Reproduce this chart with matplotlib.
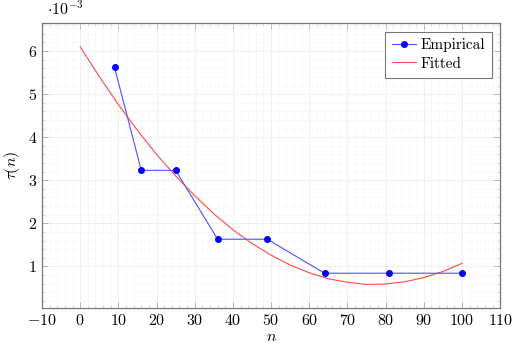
import matplotlib
matplotlib.use("Agg")
import matplotlib.pyplot as plt
from matplotlib.ticker import MultipleLocator, FuncFormatter

plt.rcParams['font.family'] = 'serif'
plt.rcParams['font.serif'] = ['cmr10']
plt.rcParams['mathtext.fontset'] = 'cm'
plt.rcParams['axes.formatter.use_mathtext'] = True

# Data (tau values in units of 1e-3)
emp_n = [9, 16, 25, 36, 49, 64, 81, 100]
emp_tau = [5.62, 3.23, 3.23, 1.63, 1.63, 0.84, 0.84, 0.84]

fit_n = [0, 5, 10, 15, 20, 25, 30, 35, 40, 45, 50, 55, 60, 65, 70, 75, 80, 85, 90, 95, 100]
fit_tau = [6.10, 5.41, 4.76, 4.16, 3.60, 3.10, 2.64, 2.22, 1.85, 1.53, 1.26, 1.03,
           0.85, 0.71, 0.63, 0.58, 0.59, 0.64, 0.74, 0.88, 1.07]

fig = plt.figure(figsize=(5.12, 3.45), dpi=100)
ax = fig.add_axes([0.082, 0.107, 0.895, 0.826])

ax.plot(emp_n, emp_tau, color='#5050ff', lw=0.8, marker='o', ms=4.0,
        markerfacecolor='blue', markeredgecolor='blue', label='Empirical', zorder=3)
ax.plot(fit_n, fit_tau, color='#ff4a4a', lw=0.8, label='Fitted', zorder=2)

ax.set_xlim(-10, 110)
ax.set_ylim(0.03, 6.65)
ax.xaxis.set_major_locator(MultipleLocator(10))
ax.xaxis.set_minor_locator(MultipleLocator(2))
ax.yaxis.set_major_locator(MultipleLocator(1))
ax.yaxis.set_minor_locator(MultipleLocator(0.2))
fmt = FuncFormatter(lambda v, p: r'$%d$' % round(v) if round(v) >= 0 else r'$-%d$' % abs(round(v)))
ax.xaxis.set_major_formatter(fmt)
ax.yaxis.set_major_formatter(fmt)

ax.grid(which='major', color='#ededed', lw=0.6)
ax.grid(which='minor', color='#f7f7f7', lw=0.5)
ax.set_axisbelow(True)
ax.tick_params(which='both', direction='in', labelcolor='black',
               labelsize=11.5, top=True, right=True)
ax.tick_params(which='major', length=4, width=0.6, colors='#aaaaaa', labelcolor='black')
ax.tick_params(which='minor', length=2, width=0.5, colors='#cccccc')
for s in ax.spines.values():
    s.set_color('#777777')
    s.set_linewidth(0.9)

ax.set_xlabel(r'$n$', fontsize=11.5, labelpad=2)
ax.set_ylabel(r'$\tau(n)$', fontsize=11.5, labelpad=4)
ax.text(0.012, 1.02, r'$\cdot 10^{-3}$', transform=ax.transAxes, fontsize=11.5, ha='left', va='bottom')

leg = ax.legend(loc='upper right', fontsize=11, frameon=True, fancybox=False,
                edgecolor='#777777', framealpha=1, handlelength=1.55, borderpad=0.45,
                labelspacing=0.3, handletextpad=0.3, borderaxespad=0.55)
leg.get_frame().set_linewidth(0.8)

fig.savefig('out.png', dpi=100)
